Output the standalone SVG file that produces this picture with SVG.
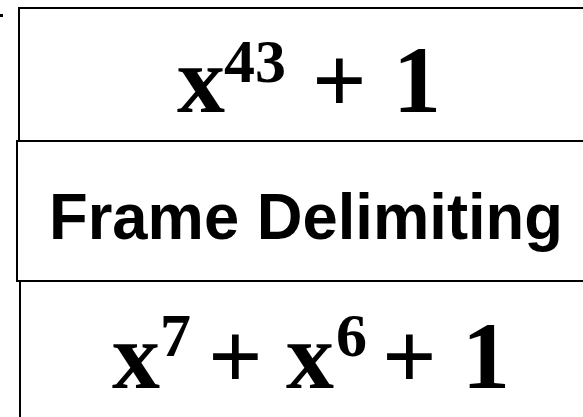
<svg xmlns="http://www.w3.org/2000/svg" width="583" height="417" viewBox="0 0 583 417">
<style>
.box{fill:#fff;stroke:#000;stroke-width:2}
.f{font-family:"Liberation Serif","Times New Roman",serif;font-weight:bold;fill:#000}
.b{font-size:96px}
.s{font-size:62px}
.lbl{font-family:"Liberation Sans",Arial,sans-serif;font-weight:bold;font-size:65px;fill:#000}
</style>
<rect width="583" height="417" fill="#fff"/>
<rect x="0" y="14" width="3" height="3" fill="#000"/>
<g id="node-top">
<rect class="box" x="19" y="8" width="600" height="133"/>
<text class="f b" x="177" y="112">x</text>
<text class="f s" x="224" y="82">43</text>
<text class="f b" x="312" y="112">+</text>
<text class="f b" x="393" y="112">1</text>
</g>
<g id="node-middle">
<rect class="box" x="17" y="141" width="600" height="140"/>
<text class="lbl" x="49" y="239" textLength="514" lengthAdjust="spacingAndGlyphs">Frame Delimiting</text>
</g>
<g id="node-bottom">
<rect class="box" x="20" y="281" width="600" height="150"/>
<text class="f b" x="112" y="388">x</text>
<text class="f s" x="160" y="356">7</text>
<text class="f b" x="208" y="388">+</text>
<text class="f b" x="286" y="388">x</text>
<text class="f s" x="336" y="356">6</text>
<text class="f b" x="382" y="388">+</text>
<text class="f b" x="462" y="388">1</text>
</g>
<g id="connectors"></g>
</svg>
